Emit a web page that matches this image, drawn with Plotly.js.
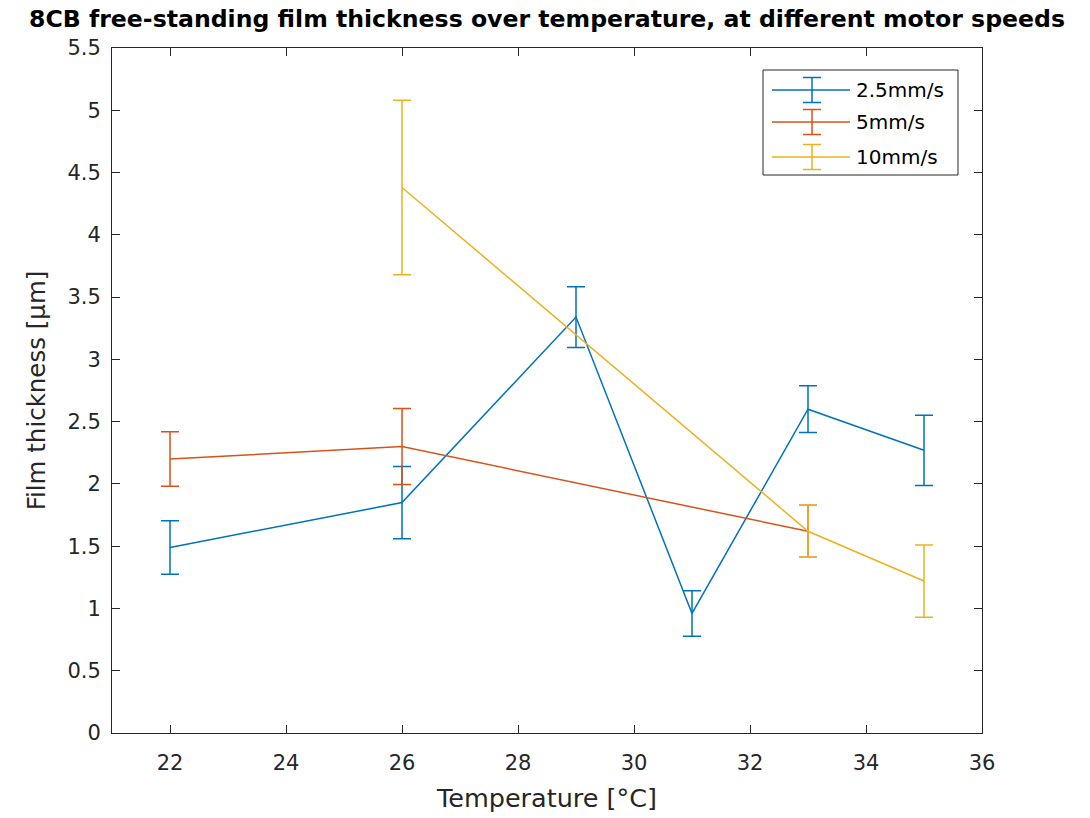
<!DOCTYPE html>
<html>
<head>
<meta charset="utf-8">
<script src="https://cdn.plot.ly/plotly-3.0.1.min.js"></script>
<style>html,body{margin:0;padding:0;background:#fff;}#chart{width:1090px;height:818px;}</style>
</head>
<body>
<div id="chart"></div>
<script>
// Data
const temps25 = [22, 26, 29, 31, 33, 35];
const thick25 = [1.49, 1.85, 3.34, 0.96, 2.60, 2.27];
const err25   = [0.215, 0.29, 0.244, 0.183, 0.188, 0.282];

const temps5 = [22, 26, 33];
const thick5 = [2.20, 2.30, 1.62];
const err5   = [0.218, 0.305, 0.208];

const temps10 = [26, 33, 35];
const thick10 = [4.38, 1.62, 1.22];
const err10   = [0.70, 0.208, 0.29];

const seriesNames = ['2.5mm/s', '5mm/s', '10mm/s'];
const colors = ['#0072BD', '#D95319', '#EDB120'];

const xTicks = [22, 24, 26, 28, 30, 32, 34, 36];
const yTicks = [0, 0.5, 1, 1.5, 2, 2.5, 3, 3.5, 4, 4.5, 5, 5.5];

const FONT = 'DejaVu Sans, Liberation Sans, Arial, sans-serif';
const W = 1090, H = 818;
const L = 112, R = 982, T = 48, B = 733;
function px(x) { return (x - L) / (R - L); }
function py(y) { return (B - y) / (B - T); }

function mk(x, y, e, i) {
  return {
    x: x, y: y, type: 'scatter', mode: 'lines', name: seriesNames[i],
    line: {color: colors[i], width: 1.5},
    error_y: {type: 'data', array: e, visible: true, color: colors[i], thickness: 1.5, width: 9},
    showlegend: false
  };
}
const data = [mk(temps25, thick25, err25, 0), mk(temps5, thick5, err5, 1), mk(temps10, thick10, err10, 2)];

// manual legend (box, line samples with error-bar glyphs, labels)
const shapes = [];
const annotations = [];
shapes.push({type: 'rect', xref: 'paper', yref: 'paper', x0: px(763), x1: px(958), y0: py(70), y1: py(175),
  line: {color: '#262626', width: 1}, fillcolor: '#ffffff', layer: 'above'});
const rowY = [90, 122, 157];
rowY.forEach(function (ry, i) {
  const c = colors[i];
  shapes.push({type: 'line', xref: 'paper', yref: 'paper', x0: px(772), x1: px(850), y0: py(ry), y1: py(ry), line: {color: c, width: 1.5}, layer: 'above'});
  shapes.push({type: 'line', xref: 'paper', yref: 'paper', x0: px(812), x1: px(812), y0: py(ry - 12.5), y1: py(ry + 12.5), line: {color: c, width: 1.5}, layer: 'above'});
  shapes.push({type: 'line', xref: 'paper', yref: 'paper', x0: px(803), x1: px(821), y0: py(ry - 12.5), y1: py(ry - 12.5), line: {color: c, width: 1.5}, layer: 'above'});
  shapes.push({type: 'line', xref: 'paper', yref: 'paper', x0: px(803), x1: px(821), y0: py(ry + 12.5), y1: py(ry + 12.5), line: {color: c, width: 1.5}, layer: 'above'});
  annotations.push({xref: 'paper', yref: 'paper', x: px(854), y: py(ry), xanchor: 'left', yanchor: 'middle',
    text: seriesNames[i], showarrow: false, font: {family: FONT, size: 20, color: '#000'}});
});

const axisCommon = {
  showgrid: false, zeroline: false, showline: true, linecolor: '#262626', linewidth: 1,
  mirror: 'ticks', ticks: 'inside', ticklen: 8, tickcolor: '#262626', tickwidth: 1,
  tickfont: {family: FONT, size: 21, color: '#262626'}
};

const layout = {
  width: W, height: H,
  margin: {l: L, r: W - R, t: T, b: H - B, pad: 0},
  paper_bgcolor: '#fff', plot_bgcolor: '#fff',
  title: {text: '<b>8CB free-standing film thickness over temperature, at different motor speeds</b>',
    font: {family: FONT, size: 23.6, color: '#000'},
    x: 0.5, xref: 'paper', xanchor: 'center', y: 1 - 19 / H, yref: 'container', yanchor: 'middle'},
  xaxis: Object.assign({}, axisCommon, {
    range: [21, 36], tickvals: xTicks, ticktext: xTicks.map(String), ticklabelstandoff: 11,
    title: {text: 'Temperature [°C]', font: {family: FONT, size: 25.5, color: '#262626'}, standoff: 14}
  }),
  yaxis: Object.assign({}, axisCommon, {
    range: [0, 5.5], tickvals: yTicks, ticktext: yTicks.map(String), ticklabelstandoff: 6,
    title: {text: 'Film thickness [µm]', font: {family: FONT, size: 24.5, color: '#262626'}, standoff: 14}
  }),
  shapes: shapes, annotations: annotations, showlegend: false
};

Plotly.newPlot('chart', data, layout, {displayModeBar: false, staticPlot: true});
</script>
</body>
</html>
